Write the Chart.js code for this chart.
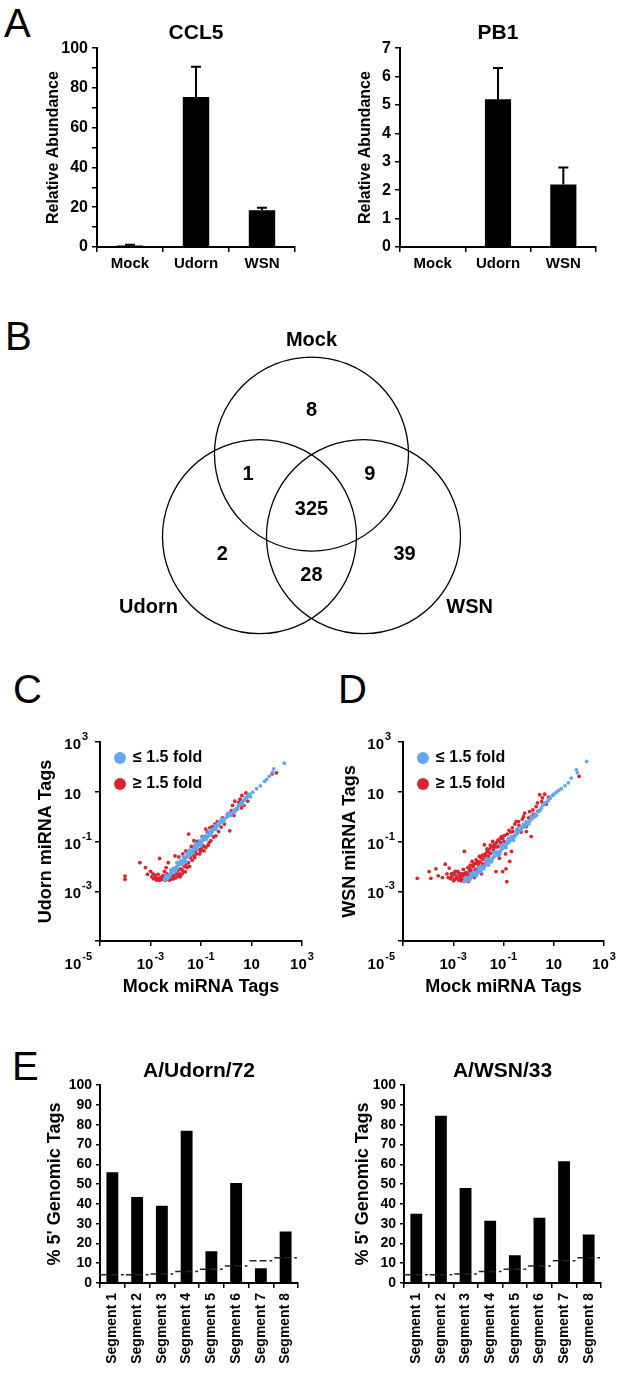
<!DOCTYPE html>
<html>
<head>
<meta charset="utf-8">
<script src="https://cdn.jsdelivr.net/npm/chart.js@4.4.1/dist/chart.umd.min.js"></script>
<style>
  body { margin: 0; background: #fff; }
  #page { position: relative; width: 622px; height: 1378px; overflow: hidden; font-family: "Liberation Sans", Arial, sans-serif; }
  canvas { position: absolute; }
  .panel { position: absolute; font-size: 40px; line-height: 40px; color: #000; }
</style>
</head>
<body>
<div id="page">
  <div class="panel" style="left:4px;top:3px">A</div>
  <div class="panel" style="left:5px;top:316px">B</div>
  <div class="panel" style="left:13px;top:669px">C</div>
  <div class="panel" style="left:338px;top:669px">D</div>
  <div class="panel" style="left:12px;top:1046px">E</div>

  <canvas id="ccl5" style="left:0;top:0" width="311" height="290"></canvas>
  <canvas id="pb1" style="left:311px;top:0" width="311" height="290"></canvas>
  <canvas id="venn" style="left:0;top:300px" width="622" height="340"></canvas>
  <canvas id="udornTags" style="left:0;top:650px" width="330" height="350"></canvas>
  <canvas id="wsnTags" style="left:311px;top:650px" width="311" height="350"></canvas>
  <canvas id="udornGen" style="left:0;top:1040px" width="311" height="338"></canvas>
  <canvas id="wsnGen" style="left:311px;top:1040px" width="311" height="338"></canvas>
</div>

<script>
// A - qPCR
const groups = ['Mock', 'Udorn', 'WSN'];
const ccl5Values = [0.8, 75.5, 18.5];
const ccl5Errors = [0.3, 15.2, 1.2];
const pb1Values = [0, 5.2, 2.2];
const pb1Errors = [0, 1.1, 0.6];

// B - venn
const vennSets = ['Mock', 'Udorn', 'WSN'];
const vennCenterX = [0, -0.536, 0.536];
const vennCenterY = [0.567, -0.284, -0.284];
const vennRadius = 1;
const setLabelX = [0, -1.68, 1.63];
const setLabelY = [1.74, -1.01, -1.01];
const vennCounts = [8, 1, 9, 325, 2, 39, 28];
const countX = [0, -0.655, 0.6, 0, -0.92, 0.96, 0];
const countY = [1.02, 0.36, 0.36, 0, -0.47, -0.47, -0.68];

// C/D - miRNA tags, log10 units [mock, infected]
const logTicks = [-5, -3, -1, 1, 3];
const udornSame = [[-2.45,-2.55],[-2.42,-2.48],[-2.38,-2.52],[-2.35,-2.42],[-2.3,-2.46],[-2.28,-2.36],[-2.22,-2.32],[-2.18,-2.25],[-2.12,-2.22],[-2.08,-2.15],[-2.02,-2.1],[-1.98,-2.02],[-1.95,-2.08],[-1.9,-1.95],[-1.85,-1.9],[-1.8,-1.84],[-1.76,-1.92],[-1.72,-1.78],[-1.66,-1.7],[-1.62,-1.75],[-1.58,-1.62],[-1.52,-1.55],[-1.48,-1.6],[-1.42,-1.46],[-1.38,-1.4],[-1.32,-1.36],[-1.28,-1.3],[-1.22,-1.28],[-1.18,-1.2],[-1.12,-1.18],[-1.08,-1.1],[-1.02,-1.05],[-0.98,-1.02],[-0.92,-0.95],[-0.88,-0.92],[-0.82,-0.86],[-0.76,-0.78],[-0.72,-0.8],[-0.66,-0.68],[-0.6,-0.62],[-0.55,-0.6],[-0.5,-0.5],[-0.44,-0.48],[-0.38,-0.4],[-0.3,-0.35],[-0.24,-0.26],[-0.16,-0.2],[-0.08,-0.1],[0,-0.04],[0.08,0.02],[0.16,0.1],[0.24,0.16],[0.3,0.26],[0.4,0.32],[0.48,0.44],[0.56,0.5],[0.64,0.6],[0.72,0.66],[0.8,0.76],[0.86,0.84],[0.92,0.9],[0.96,0.8],[1.2,1.12],[1.35,1.24],[1.52,1.42],[1.84,1.78],[1.88,1.92],[2.3,2.15],[-2.2,-2.15],[-1.95,-1.85],[-1.7,-1.62],[-1.45,-1.35],[-1.2,-1.08],[-0.95,-0.85],[-0.7,-0.62],[-0.45,-0.36],[-0.2,-0.1],[0.1,0.14],[-1.6,-1.82],[-1.3,-1.45],[-1.0,-1.14],[-0.6,-0.74],[0.35,0.2],[0.65,0.5],[-2.4,-2.38],[-2.25,-2.42],[-2.1,-2.08],[-2.0,-2.18],[-1.82,-1.78],[-1.68,-1.82],[-1.55,-1.48],[-1.4,-1.52],[-1.25,-1.18],[-1.15,-1.3],[-1.05,-0.98],[-0.85,-0.78],[-0.78,-0.9],[-0.58,-0.52],[-0.4,-0.52],[-0.28,-0.22],[-0.1,-0.2],[0.05,0.12],[0.2,0.05],[0.45,0.36],[0.6,0.55],[0.75,0.75],[0.9,0.82],[1.05,0.98],[1.6,1.5],[1.7,1.62]];
const udornFold = [[-4.01,-2.39],[-4.01,-2.52],[-3.42,-1.85],[-3.2,-2.05],[-3.12,-2.32],[-3.0,-2.2],[-2.95,-2.42],[-2.88,-2.5],[-2.82,-2.35],[-2.76,-2.55],[-2.7,-2.48],[-2.65,-2.56],[-2.64,-1.68],[-2.6,-2.44],[-2.55,-2.53],[-2.5,-2.36],[-2.45,-2.2],[-2.3,-1.85],[-2.38,-2.05],[-2.25,-2.55],[-2.2,-2.42],[-2.15,-2.5],[-2.08,-2.38],[-2.03,-1.58],[-2.0,-2.46],[-1.96,-2.19],[-1.92,-2.4],[-1.88,-1.62],[-1.85,-2.3],[-1.8,-2.1],[-1.76,-2.32],[-1.72,-1.5],[-1.7,-2.22],[-1.65,-2.0],[-1.6,-1.38],[-1.55,-2.05],[-1.5,-1.85],[-1.49,-0.7],[-1.42,-1.65],[-1.38,-1.2],[-1.3,-1.55],[-1.28,-0.97],[-1.22,-1.42],[-1.15,-1.0],[-1.1,-1.32],[-1.01,-1.38],[-0.95,-0.8],[-0.9,-1.18],[-0.81,-0.5],[-0.81,-1.24],[-0.75,-0.62],[-0.68,-1.05],[-0.61,-0.97],[-0.55,-0.4],[-0.5,-0.82],[-0.41,-0.77],[-0.35,-0.2],[-0.3,-0.6],[-0.2,-0.42],[-0.07,-0.3],[0.05,0.1],[0.14,-0.57],[0.2,0.24],[0.3,0.05],[0.34,0.62],[0.42,0.3],[0.5,0.58],[0.6,0.35],[0.7,0.45],[0.78,0.95],[0.85,0.62],[1.82,1.72],[1.99,1.76],[-2.9,-2.3],[-2.8,-2.45],[-2.7,-2.32],[-2.62,-2.5],[-2.48,-2.48],[-2.42,-2.56],[-2.35,-2.3],[-2.3,-2.52],[-2.18,-2.28],[-2.1,-2.5],[-1.98,-2.3],[-1.9,-2.15],[-1.82,-2.42],[-1.74,-2.15],[-1.62,-2.22],[-1.58,-1.9],[-1.45,-2.0],[-1.35,-1.75],[-1.25,-1.65],[-1.18,-1.5],[-1.05,-1.5],[-0.98,-1.3],[-0.88,-1.38],[-0.72,-1.15],[-0.65,-0.45],[-0.45,-0.3],[-0.15,-0.05],[0.25,0.45],[0.55,0.7],[0.62,0.85]];
const wsnSame = [[-2.56,-2.61],[-2.52,-2.55],[-2.48,-2.58],[-2.45,-2.5],[-2.4,-2.52],[-2.36,-2.44],[-2.32,-2.48],[-2.28,-2.4],[-2.23,-2.34],[-2.18,-2.38],[-2.14,-2.28],[-2.1,-2.3],[-2.05,-2.2],[-2.0,-2.25],[-1.95,-2.12],[-1.9,-2.15],[-1.85,-2.05],[-1.8,-2.02],[-1.75,-1.98],[-1.7,-1.92],[-1.65,-1.9],[-1.6,-1.82],[-1.55,-1.8],[-1.5,-1.72],[-1.45,-1.7],[-1.4,-1.62],[-1.35,-1.6],[-1.29,-1.54],[-1.24,-1.48],[-1.18,-1.42],[-1.12,-1.38],[-1.06,-1.3],[-1.0,-1.24],[-0.94,-1.2],[-0.88,-1.1],[-0.82,-1.06],[-0.76,-0.98],[-0.7,-0.92],[-0.63,-0.86],[-0.56,-0.8],[-0.5,-0.72],[-0.44,-0.66],[-0.38,-0.58],[-0.3,-0.52],[-0.22,-0.44],[-0.14,-0.36],[-0.06,-0.3],[0.04,-0.2],[0.12,-0.1],[0.2,-0.04],[0.31,0.06],[0.4,0.2],[0.5,0.34],[0.57,0.46],[0.66,0.55],[0.76,0.62],[0.86,0.74],[0.96,0.86],[1.1,0.98],[1.3,1.12],[1.45,1.24],[1.58,1.36],[1.9,1.88],[1.94,1.76],[2.31,2.22],[-2.3,-2.3],[-2.0,-2.05],[-1.7,-1.75],[-1.4,-1.45],[-1.1,-1.2],[-0.8,-0.9],[-0.5,-0.6],[-0.2,-0.3],[0.1,0.02],[-1.9,-2.22],[-1.6,-1.95],[-1.2,-1.55],[-0.9,-1.25],[-2.5,-2.45],[-2.35,-2.55],[-2.2,-2.25],[-2.08,-2.36],[-1.92,-2.0],[-1.78,-2.1],[-1.62,-1.7],[-1.48,-1.82],[-1.32,-1.4],[-1.15,-1.5],[-1.02,-1.12],[-0.85,-1.0],[-0.7,-0.8],[-0.6,-0.95],[-0.42,-0.5],[-0.3,-0.4],[-0.1,-0.2],[0.0,-0.3],[0.25,0.1],[0.45,0.25],[0.62,0.5],[0.8,0.7],[1.0,0.9],[1.2,1.05],[1.7,1.55]];
const wsnFold = [[-4.43,-2.48],[-3.96,-2.21],[-3.89,-2.48],[-3.69,-2.1],[-3.6,-2.38],[-3.43,-2.45],[-3.32,-1.91],[-3.25,-2.3],[-3.16,-2.07],[-3.1,-2.5],[-3.05,-2.4],[-3.0,-2.28],[-2.95,-2.52],[-2.9,-2.35],[-2.86,-2.45],[-2.82,-2.2],[-2.78,-2.55],[-2.74,-2.38],[-2.7,-2.48],[-2.66,-2.3],[-2.62,-2.56],[-2.6,-2.12],[-2.56,-1.4],[-2.55,-2.42],[-2.5,-2.25],[-2.46,-2.35],[-2.42,-2.05],[-2.4,-2.6],[-2.36,-2.18],[-2.32,-1.95],[-2.28,-2.22],[-2.25,-1.8],[-2.2,-2.0],[-2.16,-2.45],[-2.12,-1.88],[-2.09,-1.74],[-2.05,-2.1],[-2.0,-1.92],[-1.96,-1.6],[-1.92,-1.82],[-1.88,-2.3],[-1.84,-1.55],[-1.8,-1.72],[-1.76,-1.13],[-1.72,-1.5],[-1.68,-1.85],[-1.64,-1.4],[-1.6,-1.6],[-1.55,-1.3],[-1.5,-1.48],[-1.46,-1.2],[-1.43,-1.0],[-1.4,-1.36],[-1.35,-1.12],[-1.3,-2.21],[-1.26,-1.22],[-1.22,-0.95],[-1.16,-1.67],[-1.12,-1.05],[-1.08,-0.8],[-1.03,-0.87],[-1.03,-2.21],[-0.98,-1.0],[-0.9,-2.1],[-0.87,-2.61],[-0.85,-0.7],[-0.8,-0.9],[-0.72,-0.62],[-0.68,-1.4],[-0.63,-0.6],[-0.58,-0.78],[-0.49,-0.19],[-0.45,-0.5],[-0.38,-0.35],[-0.3,-0.62],[-0.25,-0.1],[-0.16,0.14],[-0.1,-0.4],[-0.09,-0.6],[0.04,0.2],[0.1,-0.8],[0.17,0.27],[0.25,0.02],[0.3,0.4],[0.38,0.22],[0.44,0.88],[0.52,0.6],[0.64,0.9],[0.7,0.5],[0.8,0.78],[2.01,1.62],[-3.2,-2.45],[-3.08,-2.3],[-2.98,-2.58],[-2.92,-2.2],[-2.84,-2.5],[-2.76,-2.28],[-2.68,-2.58],[-2.64,-2.4],[-2.58,-2.3],[-2.52,-2.55],[-2.44,-2.48],[-2.38,-2.3],[-2.3,-2.1],[-2.26,-2.4],[-2.18,-1.9],[-2.14,-2.15],[-2.02,-1.8],[-1.98,-2.05],[-1.9,-1.65],[-1.82,-1.9],[-1.74,-1.6],[-1.66,-1.3],[-1.58,-1.45],[-1.52,-1.15],[-1.38,-1.25],[-1.28,-1.05],[-1.2,-1.2],[-1.14,-0.9],[-0.95,-0.75],[-0.92,-1.5],[-0.78,-0.55],[-0.75,-1.8],[-0.65,-0.45],[-0.55,-0.3],[-0.4,-0.2],[-0.2,0.0],[0.0,-0.05],[0.2,0.1],[0.35,0.55],[0.55,0.75]];
const foldLabels = ['≤ 1.5 fold', '≥ 1.5 fold'];

// E - 5' genomic tags
const segments = ['Segment 1', 'Segment 2', 'Segment 3', 'Segment 4', 'Segment 5', 'Segment 6', 'Segment 7', 'Segment 8'];
const udornGenomic = [56, 43.5, 39, 77, 16, 50.5, 7.5, 26];
const wsnGenomic = [35, 84.5, 48, 31.5, 14, 33, 61.5, 24.5];
const expectedGenomic = [4.2, 4.2, 4.6, 5.8, 7, 8.6, 11.2, 12.8];

const FONT = '"Liberation Sans", Arial, sans-serif';
const BLUE = '#5fa9f2';
const RED = '#d8262d';
Chart.defaults.font.family = FONT;
Chart.defaults.color = '#000';
Chart.defaults.animation = false;

const fixW = w => s => { s.width = w; };
const fixH = h => s => { s.height = h; };
const bold = size => ({ size: size, weight: 'bold' });
const axisGrid = len => ({ drawOnChartArea: false, drawTicks: true, tickLength: len, color: '#000', lineWidth: 1.5 });
const axisBorder = { color: '#000', width: 2 };
const noPlugins = { legend: { display: false }, tooltip: { enabled: false } };

// error whiskers, upper side only
const errorBars = {
  id: 'errorBars',
  afterDatasetsDraw(chart) {
    const ds = chart.data.datasets[0];
    if (!ds.errs) return;
    const y = chart.scales.y, ctx = chart.ctx;
    ctx.save();
    ctx.strokeStyle = '#000';
    ctx.lineWidth = 2;
    chart.getDatasetMeta(0).data.forEach((bar, i) => {
      const e = ds.errs[i];
      if (!e) return;
      const top = y.getPixelForValue(ds.data[i] + e);
      ctx.beginPath();
      ctx.moveTo(bar.x, bar.y);
      ctx.lineTo(bar.x, top);
      ctx.moveTo(bar.x - 5, top);
      ctx.lineTo(bar.x + 5, top);
      ctx.stroke();
    });
    ctx.restore();
  }
};

function abundanceChart(id, title, values, errs, yMax, step, labelEvery, yWidth, padRight, titlePad) {
  new Chart(document.getElementById(id), {
    type: 'bar',
    data: {
      labels: groups,
      datasets: [{ data: values, errs: errs, backgroundColor: '#000', borderWidth: 0, barPercentage: 0.4, categoryPercentage: 1 }]
    },
    options: {
      responsive: false,
      layout: { padding: { right: padRight } },
      plugins: {
        ...noPlugins,
        title: { display: true, text: title, fullSize: false, color: '#000', font: bold(21), padding: { top: 21, bottom: 2 } }
      },
      scales: {
        x: {
          grid: axisGrid(5), border: axisBorder,
          ticks: { font: bold(15), padding: 3 },
          afterFit: fixH(43)
        },
        y: {
          min: 0, max: yMax,
          grid: axisGrid(5), border: axisBorder,
          ticks: { stepSize: step, autoSkip: false, font: bold(16), padding: 4, callback: v => (v % labelEvery === 0 ? v : '') },
          title: { display: true, text: 'Relative Abundance', color: '#000', font: bold(16), padding: { top: titlePad } },
          afterFit: fixW(yWidth)
        }
      }
    },
    plugins: [errorBars]
  });
}

abundanceChart('ccl5', 'CCL5', ccl5Values, ccl5Errors, 100, 10, 20, 97, 16, 44);
abundanceChart('pb1', 'PB1', pb1Values, pb1Errors, 7, 1, 1, 89, 26, 45);

// VENN
const vennDraw = {
  id: 'vennDraw',
  afterDatasetsDraw(chart) {
    const { ctx, scales: { x, y } } = chart;
    ctx.save();
    ctx.strokeStyle = '#000';
    ctx.lineWidth = 1.3;
    vennCenterX.forEach((cx, i) => {
      const px = x.getPixelForValue(cx);
      const py = y.getPixelForValue(vennCenterY[i]);
      const r = x.getPixelForValue(cx + vennRadius) - px;
      ctx.beginPath();
      ctx.arc(px, py, r, 0, Math.PI * 2);
      ctx.stroke();
    });
    ctx.fillStyle = '#000';
    ctx.font = 'bold 20px ' + FONT;
    ctx.textAlign = 'center';
    ctx.textBaseline = 'middle';
    vennCounts.forEach((n, i) => ctx.fillText(String(n), x.getPixelForValue(countX[i]), y.getPixelForValue(countY[i])));
    vennSets.forEach((s, i) => ctx.fillText(s, x.getPixelForValue(setLabelX[i]), y.getPixelForValue(setLabelY[i])));
    ctx.restore();
  }
};

new Chart(document.getElementById('venn'), {
  type: 'scatter',
  data: {
    datasets: [
      { data: countX.map((v, i) => ({ x: v, y: countY[i] })), pointRadius: 0 },
      { data: vennCenterX.map((v, i) => ({ x: v, y: vennCenterY[i] })), pointRadius: 0 }
    ]
  },
  options: {
    responsive: false,
    plugins: noPlugins,
    scales: {
      x: { display: false, min: -3.211, max: 3.201 },
      y: { display: false, min: -1.35, max: 2.155 }
    }
  },
  plugins: [vennDraw]
});

// SCATTER
function drawPower(ctx, exp, x, y, mode) {
  const base = '10';
  const sup = exp === 1 ? '' : String(exp);
  ctx.font = 'bold 15px ' + FONT;
  const bw = ctx.measureText(base).width;
  ctx.font = 'bold 11px ' + FONT;
  const sw = sup ? ctx.measureText(sup).width + 1 : 0;
  let left;
  if (mode === 'center') left = x - (bw + sw) / 2;
  else if (mode === 'baseRight') left = x - bw;
  else left = x - bw - sw;
  ctx.textAlign = 'left';
  ctx.textBaseline = 'middle';
  ctx.font = 'bold 15px ' + FONT;
  ctx.fillText(base, left, y);
  if (sup) {
    ctx.font = 'bold 11px ' + FONT;
    ctx.fillText(sup, left + bw + 1, y - 8);
  }
}

const powerLabels = {
  id: 'powerLabels',
  afterDraw(chart) {
    const { ctx, chartArea, scales: { x, y } } = chart;
    ctx.save();
    ctx.fillStyle = '#000';
    logTicks.slice(1).forEach(v => {
      drawPower(ctx, v, x.getPixelForValue(v), chartArea.bottom + 24, 'center');
      drawPower(ctx, v, chartArea.left - 19, y.getPixelForValue(v) + 3, 'baseRight');
    });
    drawPower(ctx, logTicks[0], chartArea.left - 8, chartArea.bottom + 24, 'right');
    ctx.restore();
  }
};

const foldLegend = {
  id: 'foldLegend',
  afterDraw(chart) {
    const { ctx, chartArea } = chart;
    ctx.save();
    [BLUE, RED].forEach((c, i) => {
      const cy = chartArea.top + 16 + i * 26;
      ctx.fillStyle = c;
      ctx.beginPath();
      ctx.arc(chartArea.left + 20, cy, 6, 0, Math.PI * 2);
      ctx.fill();
      ctx.fillStyle = '#000';
      ctx.font = 'bold 16px ' + FONT;
      ctx.textAlign = 'left';
      ctx.textBaseline = 'middle';
      ctx.fillText(foldLabels[i], chartArea.left + 33, cy);
    });
    ctx.restore();
  }
};

function tagsChart(id, yTitle, same, fold, yWidth, padRight, titlePad) {
  const logAxis = {
    type: 'linear', min: -5, max: 3,
    grid: axisGrid(5), border: axisBorder,
    ticks: { autoSkip: false, callback: () => '' },
    afterBuildTicks: s => { s.ticks = logTicks.map(v => ({ value: v })); }
  };
  new Chart(document.getElementById(id), {
    type: 'scatter',
    data: {
      datasets: [
        { label: foldLabels[0], data: same.map(p => ({ x: p[0], y: p[1] })), backgroundColor: BLUE, borderWidth: 0, pointRadius: 1.9 },
        { label: foldLabels[1], data: fold.map(p => ({ x: p[0], y: p[1] })), backgroundColor: RED, borderWidth: 0, pointRadius: 1.9 }
      ]
    },
    options: {
      responsive: false,
      layout: { padding: { top: 92, right: padRight } },
      plugins: noPlugins,
      scales: {
        x: { ...logAxis, title: { display: true, text: 'Mock miRNA Tags', color: '#000', font: bold(18), padding: { bottom: 2 } }, afterFit: fixH(59) },
        y: { ...logAxis, title: { display: true, text: yTitle, color: '#000', font: bold(18), padding: { top: titlePad } }, afterFit: fixW(yWidth) }
      }
    },
    plugins: [powerLabels, foldLegend]
  });
}

tagsChart('udornTags', 'Udorn miRNA Tags', udornSame, udornFold, 100, 28, 35);
tagsChart('wsnTags', 'WSN miRNA Tags', wsnSame, wsnFold, 92, 18, 28);

// GENOMIC TAGS - dashed expected level per segment
const expectedLine = {
  id: 'expectedLine',
  afterDatasetsDraw(chart) {
    const { ctx, scales: { x, y } } = chart;
    const half = (x.getPixelForValue(1) - x.getPixelForValue(0)) * 0.46;
    ctx.save();
    ctx.strokeStyle = '#222';
    ctx.lineWidth = 1.5;
    ctx.setLineDash([7, 3]);
    expectedGenomic.forEach((v, i) => {
      const px = x.getPixelForValue(i);
      const py = y.getPixelForValue(v);
      ctx.beginPath();
      ctx.moveTo(px - half, py);
      ctx.lineTo(px + half, py);
      ctx.stroke();
    });
    ctx.restore();
  }
};

function genomicChart(id, title, values, yWidth, padRight, titlePad) {
  new Chart(document.getElementById(id), {
    type: 'bar',
    data: {
      labels: segments,
      datasets: [{ data: values, backgroundColor: '#000', borderWidth: 0, barPercentage: 0.48, categoryPercentage: 1 }]
    },
    options: {
      responsive: false,
      layout: { padding: { right: padRight } },
      plugins: {
        ...noPlugins,
        title: { display: true, text: title, fullSize: false, color: '#000', font: bold(21), padding: { top: 19, bottom: 1 } }
      },
      scales: {
        x: {
          grid: axisGrid(5), border: axisBorder,
          ticks: { font: bold(14), padding: 5, minRotation: 90, maxRotation: 90, autoSkip: false },
          afterFit: fixH(95)
        },
        y: {
          min: 0, max: 100,
          grid: axisGrid(4), border: axisBorder,
          ticks: { stepSize: 10, autoSkip: false, font: bold(14), padding: 4 },
          title: { display: true, text: "% 5' Genomic Tags", color: '#000', font: bold(18), padding: { top: titlePad } },
          afterFit: fixW(yWidth)
        }
      }
    },
    plugins: [expectedLine]
  });
}

genomicChart('udornGen', 'A/Udorn/72', udornGenomic, 100, 13, 44);
genomicChart('wsnGen', 'A/WSN/33', wsnGenomic, 93, 21, 41);
</script>
</body>
</html>
